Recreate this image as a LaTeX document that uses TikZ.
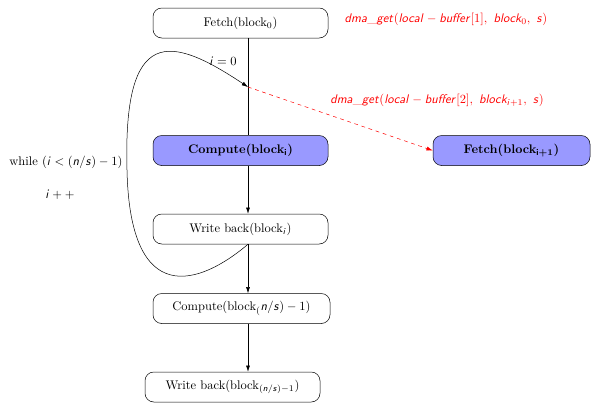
\documentclass[tikz,border=0pt]{standalone}
\usepackage{tikz}
\usetikzlibrary{arrows,arrows.meta,positioning}
% math letters in slanted sans, digits and brackets stay roman
\DeclareSymbolFont{sfletters}{OT1}{cmss}{m}{sl}
\SetSymbolFont{sfletters}{bold}{OT1}{cmss}{bx}{sl}
\makeatletter
\def\sfmathletter#1{\DeclareMathSymbol{#1}{\mathalpha}{sfletters}{`#1}}
\@tfor\@tmpl:=abcdefghijklmnopqrstuvwxyz\do{\expandafter\sfmathletter\@tmpl}
\makeatother
\tikzstyle{arrow} = [->,>={Latex[length=5pt,width=3.2pt]}]
\tikzstyle{block} = [draw, rounded corners=7pt, minimum width=140pt, minimum height=24pt]
\tikzstyle{active} = [block, fill=blue!40, font=\bfseries\boldmath]

\begin{document}
\begin{tikzpicture}[x=0.8pt,y=-0.8pt]
    \useasboundingbox (0,0) rectangle (591,403);
    % pipeline steps
    \node[block] (fetch) at (240.5,23) {Fetch(block$_0$)};
    \node[active] (compute) at (240.5,150.5) {Compute(block$_i$)};
    \node[block] (wback) at (240.5,229) {Write back(block$_i$)};
    \node[block, minimum width=141.6pt] (lastcompute) at (241.5,308.5) {Compute(block$_(n/s)-1$)};
    \node[block] (lastwback) at (232.5,387) {Write back(block$_{(n/s)-1}$)};
    \node[active, minimum width=125.6pt] (fetchnext) at (511.5,150.5) {Fetch(block$_{i+1}$)};
    \coordinate (loopin) at (248,87);

    % main chain
    \draw (fetch.south -| loopin) -- (compute.north -| loopin);
    \draw[arrow] (compute.south -| loopin) -- (wback.north -| loopin);
    \draw[arrow] (wback.south -| loopin) -- (lastcompute.north -| loopin);
    \draw[arrow] (lastcompute.south -| loopin) -- (lastwback.north -| loopin);

    % loop back and prefetch
    \draw[arrow] (wback.south -| loopin) .. controls (200,285) and (130,310) .. (127,170)
        .. controls (123,25) and (170,35) .. (loopin);
    \draw[arrow, red, dashed] (loopin) -- (fetchnext.west);

    % annotations
    \node[red] (getfirst) at (446,19) {$dma\_get(local-buffer[1],\ block_0,\ s)$};
    \node (init) at (223,61) {$i=0$};
    \node[red] (getnext) at (437,100) {$dma\_get(local-buffer[2],\ block_{i+1},\ s)$};
    \node (cond) at (66,162) {while $(i<(n/s)-1)$};
    \node (incr) at (60,195) {$i++$};
\end{tikzpicture}
\end{document}
